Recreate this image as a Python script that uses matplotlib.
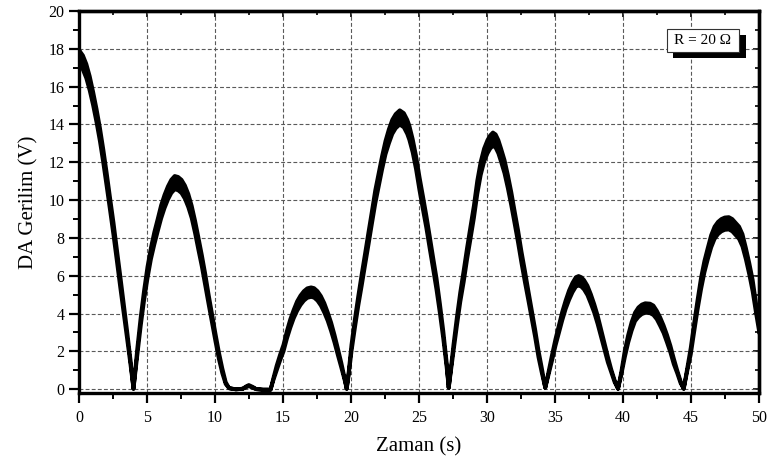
import numpy as np
import matplotlib
matplotlib.use("Agg")
import matplotlib.pyplot as plt
from matplotlib.patches import Rectangle
from matplotlib.ticker import MultipleLocator

plt.rcParams['font.family'] = ['Liberation Serif', 'DejaVu Serif']

# ── data (time in s, DC voltage in V) ──
time_s = [
    0.0, 0.25, 0.5, 0.75, 1.0, 1.25, 1.5, 1.75, 2.0, 2.25, 2.5, 2.75, 3.0, 3.25, 3.5, 3.75, 3.97,
    4.25, 4.5, 4.75, 5.0, 5.25, 5.5, 5.75, 6.0, 6.25, 6.5, 6.75, 7.0, 7.25, 7.5, 7.75, 8.0,
    8.25, 8.5, 8.75, 9.0, 9.25, 9.5, 9.75, 10.0, 10.25, 10.5, 10.75, 11.0, 11.5,
    12.0, 12.25, 12.45, 12.75, 13.0, 13.5, 14.05,
    14.25, 14.5, 14.75, 15.0, 15.25, 15.5, 15.75, 16.0, 16.25, 16.5, 16.75, 17.03, 17.25,
    17.5, 17.75, 18.0, 18.25, 18.5, 18.75, 19.0, 19.25, 19.5, 19.65,
    19.8, 20.0, 20.25, 20.5, 20.75, 21.0, 21.25, 21.5, 21.75, 22.0, 22.25, 22.5, 22.75,
    23.0, 23.25, 23.55, 23.85, 24.1, 24.25, 24.5, 24.75, 25.0, 25.25, 25.5, 25.75, 26.0,
    26.25, 26.5, 26.75, 27.0, 27.15,
    27.3, 27.5, 27.75, 28.0, 28.25, 28.5, 28.75, 29.0, 29.25, 29.5, 29.75, 30.0, 30.2,
    30.4, 30.6, 30.8, 31.0, 31.25, 31.5, 31.75, 32.0, 32.25, 32.5, 32.75, 33.0, 33.25,
    33.5, 33.75, 34.0, 34.25,
    34.5, 34.75, 35.0, 35.25, 35.5, 35.75, 36.0, 36.25, 36.5, 36.7, 36.9, 37.1, 37.35,
    37.6, 37.85, 38.1, 38.35, 38.6, 38.85, 39.1, 39.35, 39.6,
    39.85, 40.1, 40.35, 40.6, 40.85, 41.1, 41.35, 41.6, 41.95, 42.2, 42.45, 42.7, 42.95,
    43.2, 43.45, 43.7, 43.95, 44.2, 44.43,
    44.7, 44.95, 45.2, 45.45, 45.7, 45.95, 46.2, 46.45, 46.7, 46.95, 47.2, 47.45, 47.75,
    48.0, 48.25, 48.5, 48.75, 49.0, 49.25, 49.5, 49.75, 50.0,
]
voltage_v = [
    17.55, 17.3, 16.85, 16.2, 15.4, 14.5, 13.5, 12.35, 11.1, 9.8, 8.5, 7.1, 5.7, 4.3, 2.9, 1.45, 0.05,
    2.0, 3.6, 5.0, 6.2, 7.2, 8.0, 8.7, 9.4, 9.95, 10.4, 10.75, 10.95, 10.9, 10.75, 10.45, 10.0,
    9.4, 8.6, 7.7, 6.8, 5.8, 4.75, 3.75, 2.75, 1.8, 1.0, 0.35, 0.08, 0.02,
    0.05, 0.15, 0.22, 0.12, 0.03, 0.0, 0.0,
    0.54, 1.15, 1.7, 2.2, 2.9, 3.5, 4.0, 4.42, 4.73, 4.96, 5.11, 5.16, 5.12,
    4.96, 4.7, 4.33, 3.87, 3.33, 2.7, 2.0, 1.3, 0.55, 0.05,
    0.9, 2.2, 3.5, 4.7, 5.8, 6.9, 8.0, 9.1, 10.2, 11.1, 12.0, 12.8, 13.4,
    13.9, 14.2, 14.4, 14.25, 13.9, 13.6, 12.9, 12.0, 10.9, 9.9, 8.9, 7.8, 6.7,
    5.6, 4.3, 2.9, 1.3, 0.1,
    1.0, 2.2, 3.6, 4.9, 6.0, 7.2, 8.3, 9.4, 10.7, 11.7, 12.4, 12.85, 13.1,
    13.25, 13.15, 12.85, 12.4, 11.8, 11.0, 10.1, 9.1, 8.1, 7.0, 6.0, 5.0, 4.0,
    3.0, 1.9, 1.0, 0.1,
    0.9, 1.7, 2.5, 3.2, 3.9, 4.5, 5.0, 5.4, 5.7, 5.76, 5.7, 5.55, 5.25,
    4.8, 4.3, 3.7, 3.0, 2.3, 1.6, 1.0, 0.45, 0.05,
    0.9, 1.9, 2.7, 3.35, 3.85, 4.1, 4.25, 4.32, 4.3, 4.2, 3.95, 3.6, 3.2,
    2.7, 2.15, 1.5, 0.95, 0.4, 0.05,
    1.1, 2.05, 3.3, 4.5, 5.6, 6.5, 7.2, 7.85, 8.3, 8.55, 8.7, 8.78, 8.8,
    8.7, 8.5, 8.3, 7.9, 7.2, 6.4, 5.5, 4.3, 3.2,
]
# peak-to-peak width of the fast ripple band (V)
ripple_v = [
    0.75, 0.75, 0.75, 0.75, 0.7, 0.7, 0.7, 0.7, 0.7, 0.65, 0.65, 0.6, 0.6, 0.5, 0.4, 0.25, 0.0,
    0.35, 0.45, 0.5, 0.6, 0.6, 0.65, 0.65, 0.7, 0.7, 0.7, 0.7, 0.7, 0.7, 0.7, 0.7, 0.7,
    0.65, 0.65, 0.65, 0.6, 0.6, 0.5, 0.45, 0.4, 0.35, 0.25, 0.1, 0.0, 0.0,
    0.0, 0.05, 0.05, 0.05, 0.0, 0.0, 0.0,
    0.1, 0.25, 0.3, 0.35, 0.4, 0.45, 0.45, 0.5, 0.5, 0.5, 0.5, 0.5, 0.5,
    0.5, 0.5, 0.5, 0.45, 0.45, 0.4, 0.35, 0.25, 0.1, 0.0,
    0.15, 0.35, 0.45, 0.5, 0.6, 0.6, 0.65, 0.65, 0.7, 0.7, 0.7, 0.7, 0.75,
    0.75, 0.75, 0.75, 0.75, 0.75, 0.75, 0.7, 0.7, 0.7, 0.7, 0.65, 0.65, 0.6,
    0.6, 0.5, 0.4, 0.25, 0.0,
    0.15, 0.35, 0.45, 0.5, 0.6, 0.6, 0.65, 0.65, 0.7, 0.7, 0.7, 0.7, 0.7,
    0.7, 0.7, 0.7, 0.7, 0.7, 0.7, 0.7, 0.65, 0.65, 0.6, 0.6, 0.5, 0.45,
    0.4, 0.35, 0.25, 0.0,
    0.15, 0.3, 0.35, 0.4, 0.45, 0.45, 0.5, 0.5, 0.5, 0.5, 0.5, 0.5, 0.5,
    0.5, 0.45, 0.45, 0.4, 0.35, 0.3, 0.15, 0.1, 0.0,
    0.15, 0.35, 0.4, 0.45, 0.45, 0.5, 0.5, 0.5, 0.5, 0.5, 0.45, 0.45, 0.4,
    0.4, 0.35, 0.3, 0.15, 0.1, 0.0,
    0.15, 0.35, 0.45, 0.5, 0.6, 0.6, 0.6, 0.65, 0.65, 0.65, 0.65, 0.65, 0.65,
    0.65, 0.65, 0.65, 0.65, 0.6, 0.6, 0.6, 0.5, 0.45,
]

x_ticks = [0, 5, 10, 15, 20, 25, 30, 35, 40, 45, 50]
y_ticks = [0, 2, 4, 6, 8, 10, 12, 14, 16, 18, 20]
label_text = "R = 20 \u03A9"

t = np.array(time_s)
v = np.array(voltage_v)
r = np.array(ripple_v)

fig = plt.figure(figsize=(7.83, 4.67), dpi=100)
ax = fig.add_axes([0.1009, 0.1585, 0.8684, 0.8179])

ax.fill_between(t, v - r / 2, v + r / 2, facecolor="black", edgecolor="black",
                linewidth=2.8, joinstyle="round", zorder=3)

ax.set_xlim(0, 50)
ax.set_ylim(-0.2, 20)
ax.set_xticks(x_ticks)
ax.set_yticks(y_ticks)
ax.xaxis.set_minor_locator(MultipleLocator(2.5))
ax.yaxis.set_minor_locator(MultipleLocator(1))

ax.grid(True, which="major", linestyle=(0, (3.5, 2)), linewidth=0.8, color="#5a5a5a")
ax.set_axisbelow(True)

for s in ax.spines.values():
    s.set_linewidth(2.4)
    s.set_zorder(5)

ax.tick_params(which="major", direction="out", length=7.5, width=1.6,
               labelsize=11.5, colors="black")
ax.tick_params(axis="x", which="major", pad=5)
ax.tick_params(axis="y", which="major", pad=3)
ax.tick_params(which="minor", direction="out", length=4.5, width=1.4)

# inward ticks on top and right
top = ax.secondary_xaxis("top")
top.set_xticks(x_ticks)
top.xaxis.set_minor_locator(MultipleLocator(2.5))
top.tick_params(which="both", direction="in", labeltop=False, width=1.2)
top.tick_params(which="major", length=4)
top.tick_params(which="minor", length=3)
right = ax.secondary_yaxis("right")
right.set_yticks(y_ticks)
right.yaxis.set_minor_locator(MultipleLocator(1))
right.tick_params(which="both", direction="in", labelright=False, width=1.2)
right.tick_params(which="major", length=4)
right.tick_params(which="minor", length=3)
for sec in (top, right):
    for s in sec.spines.values():
        s.set_linewidth(2.4)

ax.set_xlabel("Zaman (s)", fontsize=15)
ax.set_ylabel("DA Gerilim (V)", fontsize=15)
ax.xaxis.set_label_coords(0.5, -0.115)
ax.yaxis.set_label_coords(-0.06, 0.5)

# label box with drop shadow
ax.add_patch(Rectangle((0.874, 0.8762), 0.1064, 0.061, transform=ax.transAxes,
                       facecolor="black", edgecolor="none", zorder=6, clip_on=False))
ax.add_patch(Rectangle((0.8647, 0.8919), 0.1059, 0.061, transform=ax.transAxes,
                       facecolor="white", edgecolor="#333333", linewidth=0.8, zorder=7,
                       clip_on=False))
ax.text(0.9176, 0.9224, label_text, transform=ax.transAxes, ha="center", va="center",
        fontsize=11, zorder=8)

fig.savefig("out.png", dpi=100)
